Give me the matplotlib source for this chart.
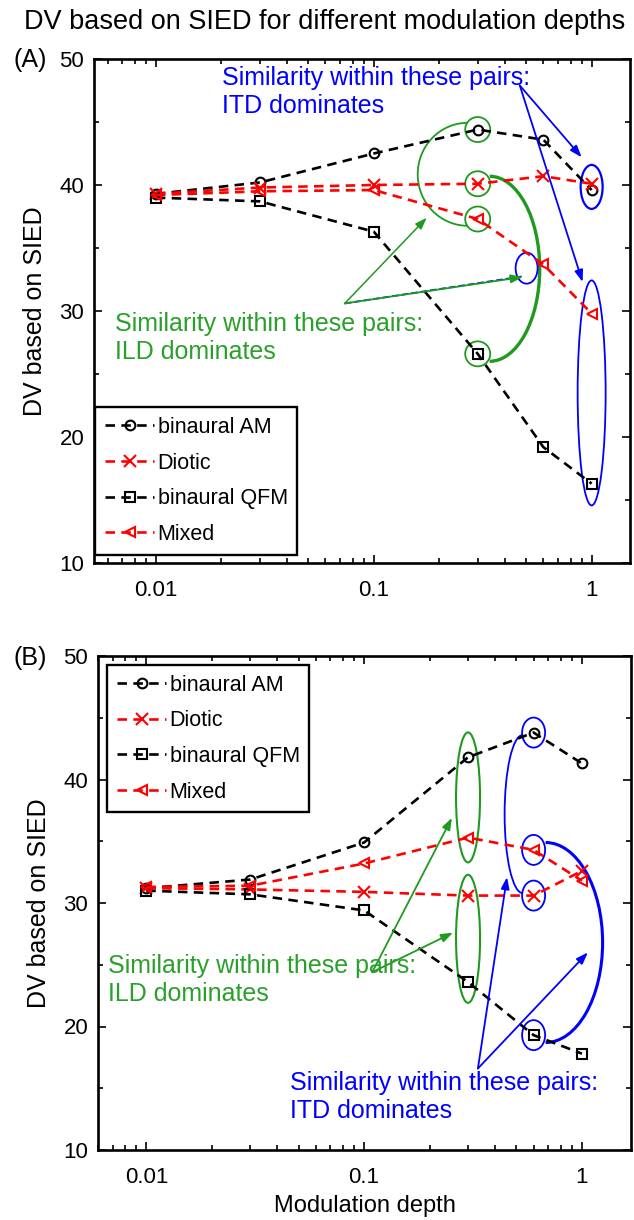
import matplotlib
matplotlib.use('Agg')
import matplotlib.pyplot as plt
import matplotlib.transforms as mtransforms
from matplotlib.patches import Ellipse, Arc
from matplotlib.ticker import FixedLocator, NullFormatter, LogLocator

plt.rcParams['font.family'] = ['Liberation Sans', 'DejaVu Sans']

depth = [0.01, 0.03, 0.1, 0.3, 0.6, 1.0]

# panel A
a_am = [39.3, 40.2, 42.5, 44.4, 43.6, 39.6]
a_diotic = [39.3, 39.8, 40.0, 40.1, 40.7, 40.1]
a_qfm = [39.0, 38.7, 36.3, 26.6, 19.2, 16.3]
a_mixed = [39.2, 39.5, 39.6, 37.3, 33.7, 29.8]

# panel B
b_am = [31.2, 31.9, 34.9, 41.8, 43.8, 41.3]
b_diotic = [31.2, 31.1, 30.9, 30.6, 30.6, 32.6]
b_qfm = [31.0, 30.7, 29.4, 23.6, 19.3, 17.8]
b_mixed = [31.3, 31.4, 33.2, 35.3, 34.3, 31.8]

labels = ['binaural AM', 'Diotic', 'binaural QFM', 'Mixed']
markers = ['o', 'x', 's', '<']
colors = ['black', 'red', 'black', 'red']

GREEN_TXT = '#2aa02a'
GREEN = '#1f9a1f'
BLUE = '#0000ff'
dash = (0, (3.6, 2.4))

fig = plt.figure(figsize=(6.34, 12.2), dpi=100)
axA = fig.add_axes([94/634, 1 - 563/1220, 536/634, 504/1220])
axB = fig.add_axes([98/634, 1 - 1150/1220, 533/634, 494/1220])


def draw_series(ax, series):
    for vals, lab, m, c in zip(series, labels, markers, colors):
        ax.plot(depth, vals, linestyle=dash, color=c, lw=1.9, marker=m,
                ms=7 if m != 'x' else 8, mfc='none', mec=c, mew=1.5, label=lab)


def style_axes(ax, xlim):
    ax.set_xscale('log')
    ax.set_xlim(*xlim)
    ax.set_ylim(10, 50)
    ax.set_xticks([0.01, 0.1, 1])
    ax.set_xticklabels(['0.01', '0.1', '1'])
    ax.xaxis.set_minor_locator(LogLocator(base=10, subs=range(2, 10)))
    ax.xaxis.set_minor_formatter(NullFormatter())
    ax.set_yticks([10, 20, 30, 40, 50])
    ax.yaxis.set_minor_locator(FixedLocator([15, 25, 35, 45]))
    ax.tick_params(which='both', direction='in', top=True, right=True,
                   labelsize=16, width=1.2)
    ax.tick_params(which='major', length=6)
    ax.tick_params(axis='x', which='major', pad=12)
    ax.tick_params(axis='y', which='major', pad=7)
    ax.tick_params(which='minor', length=3.5)
    for sp in ax.spines.values():
        sp.set_linewidth(1.9)
    ax.set_ylabel('DV based on SIED', fontsize=18, labelpad=9)


def px_trans(ax, x, y):
    # inch units centred on a data point
    return fig.dpi_scale_trans + mtransforms.ScaledTranslation(x, y, ax.transData)


def ring(ax, x, y, w, h, color, lw=1.3, dx=0.0, dy=0.0):
    ax.add_patch(Ellipse((dx, dy), w, h, transform=px_trans(ax, x, y),
                         fill=False, ec=color, lw=lw, clip_on=False))


def half_arc(ax, x, y, w, h, t1, t2, color, lw, dx=0.0):
    ax.add_patch(Arc((dx, 0), w, h, theta1=t1, theta2=t2,
                     transform=px_trans(ax, x, y), ec=color, lw=lw))


def arrow(ax, start, end, color, lw=1.3):
    ax.annotate('', xy=end, xytext=start, xycoords='data', textcoords='data',
                arrowprops=dict(arrowstyle='-|>,head_length=0.7,head_width=0.25',
                                color=color, lw=lw, shrinkA=0, shrinkB=0))


def add_legend(ax, loc, anchor):
    leg = ax.legend(loc=loc, bbox_to_anchor=anchor, fontsize=15.5,
                    frameon=True, fancybox=False, edgecolor='black', framealpha=1,
                    handlelength=2.3, handletextpad=0.15, labelspacing=0.68,
                    borderpad=0.45, borderaxespad=0.3, numpoints=1)
    leg.get_frame().set_linewidth(1.7)
    return leg


# ---------------- panel A ----------------
draw_series(axA, [a_am, a_diotic, a_qfm, a_mixed])
style_axes(axA, (0.0052, 1.5))
add_legend(axA, 'lower left', (-0.010, 0.004))

# green rings at depth 0.3
for v in [a_am[3], a_diotic[3], a_mixed[3], a_qfm[3]]:
    ring(axA, depth[3], v, 0.25, 0.25, GREEN)
half_arc(axA, depth[3], (a_am[3] + a_mixed[3]) / 2, 1.0, 1.03, 90, 270, GREEN, 1.3, dx=-0.10)
half_arc(axA, depth[3], (a_diotic[3] + a_qfm[3]) / 2, 1.0, 1.85, -90, 90, GREEN, 2.4, dx=0.12)

# blue rings at depth 1
ring(axA, depth[5], (a_am[5] + a_diotic[5]) / 2, 0.22, 0.44, BLUE, lw=1.6)
ring(axA, depth[5], 23.5, 0.28, 2.25, BLUE)
ring(axA, 0.503, 33.4, 0.22, 0.31, BLUE)

# arrows A
axA.plot([0.0736, 0.483], [30.6, 32.75], color=BLUE, lw=1.3, ls='--')
arrow(axA, (0.0736, 30.6), (0.175, 37.4), GREEN, lw=1.1)
arrow(axA, (0.0736, 30.6), (0.483, 32.7), GREEN, lw=1.3)
arrow(axA, (0.468, 47.9), (0.90, 42.2), BLUE)
arrow(axA, (0.468, 47.9), (0.909, 32.3), BLUE)

axA.text(0.239, 0.935, 'Similarity within these pairs:\nITD dominates',
         transform=axA.transAxes, color=BLUE, fontsize=18, ha='left', va='center',
         linespacing=1.2)
axA.text(0.039, 0.446, 'Similarity within these pairs:\nILD dominates',
         transform=axA.transAxes, color=GREEN_TXT, fontsize=18, ha='left', va='center',
         linespacing=1.2)

# ---------------- panel B ----------------
draw_series(axB, [b_am, b_diotic, b_qfm, b_mixed])
style_axes(axB, (0.006, 1.68))
axB.set_xlabel('Modulation depth', fontsize=17, labelpad=5)
add_legend(axB, 'upper left', (0.005, 0.995))

# green ellipses at depth 0.3
ring(axB, depth[3], (b_am[3] + b_mixed[3]) / 2, 0.24, 1.30, GREEN, lw=1.5)
ring(axB, depth[3], (b_diotic[3] + b_qfm[3]) / 2, 0.24, 1.28, GREEN, lw=1.5)

# blue rings at depth 0.6
for v in [b_am[4], b_mixed[4], b_diotic[4], b_qfm[4]]:
    ring(axB, depth[4], v, 0.23, 0.30, BLUE)
half_arc(axB, depth[4], (b_am[4] + b_diotic[4]) / 2, 0.36, 1.58, 90, 270, BLUE, 1.3, dx=-0.11)
half_arc(axB, depth[4], (b_mixed[4] + b_qfm[4]) / 2, 1.14, 2.0, -90, 90, BLUE, 2.2, dx=0.12)

# arrows B
arrow(axB, (0.109, 24.4), (0.253, 36.9), GREEN)
arrow(axB, (0.109, 24.4), (0.256, 27.6), GREEN)
arrow(axB, (0.333, 16.6), (0.453, 32.1), BLUE)
arrow(axB, (0.333, 16.6), (1.065, 26.0), BLUE)

axB.text(0.019, 0.344, 'Similarity within these pairs:\nILD dominates',
         transform=axB.transAxes, color=GREEN_TXT, fontsize=18, ha='left', va='center',
         linespacing=1.2)
axB.text(0.360, 0.107, 'Similarity within these pairs:\nITD dominates',
         transform=axB.transAxes, color=BLUE, fontsize=18, ha='left', va='center',
         linespacing=1.2)

fig.text(325/634, 1 - 22/1220, 'DV based on SIED for different modulation depths',
         ha='center', va='center', fontsize=19.5)
fig.text(30/634, 1 - 60/1220, '(A)', ha='center', va='center', fontsize=18)
fig.text(30/634, 1 - 658/1220, '(B)', ha='center', va='center', fontsize=18)

fig.savefig('out.png', dpi=100)
